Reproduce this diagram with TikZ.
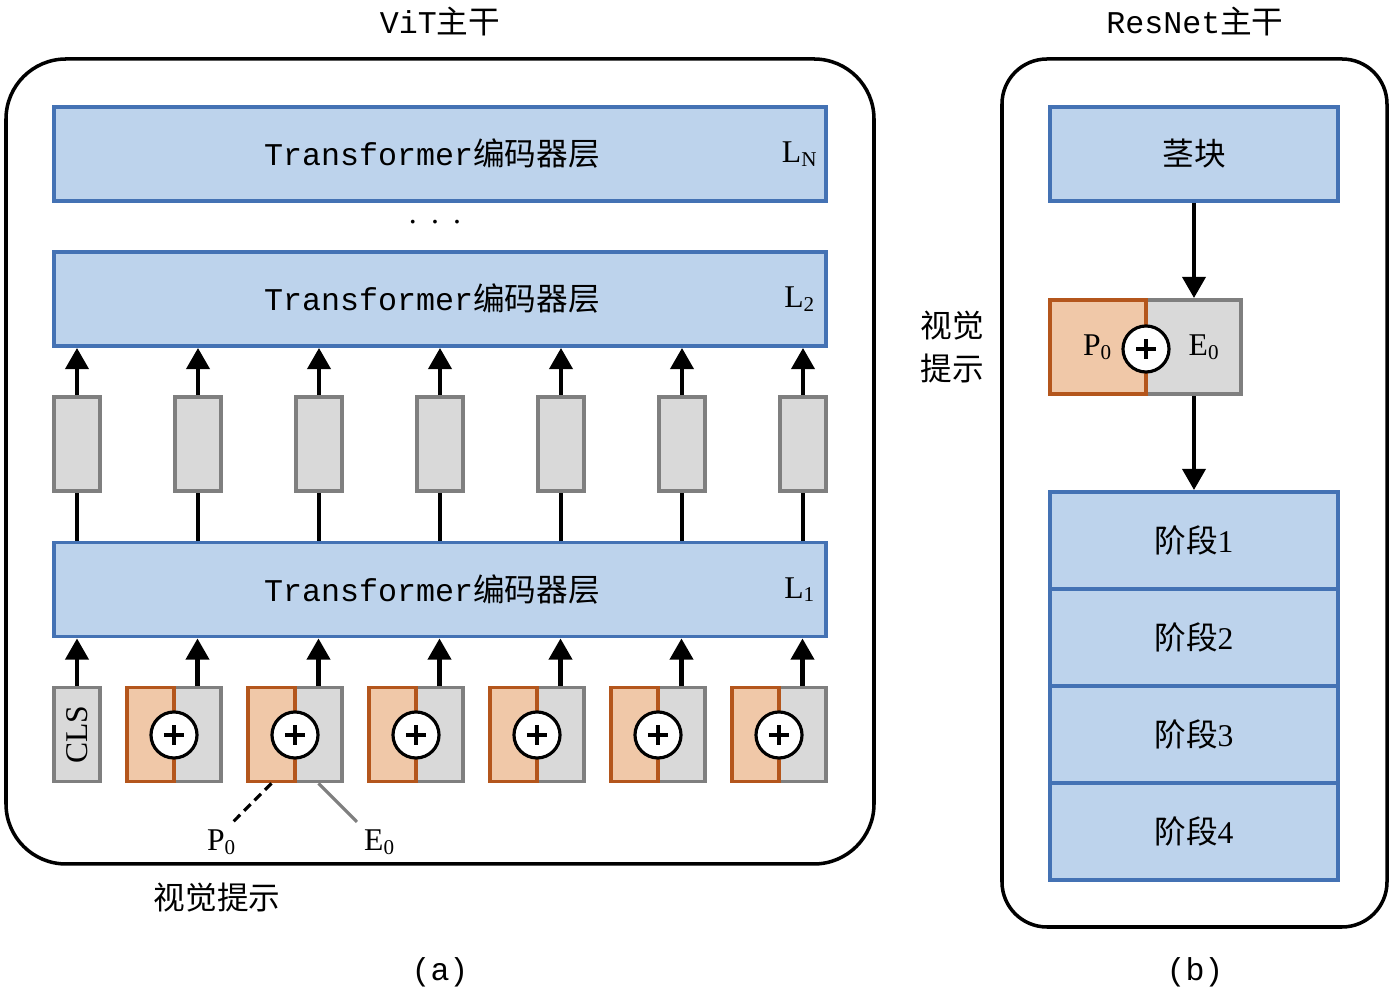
\documentclass[tikz,border=0pt]{standalone}
\usepackage{fontspec}
\setmainfont{Liberation Serif}
\newfontfamily\cjk{Noto Sans CJK SC}
\newfontfamily\latmono{Liberation Mono}
\usetikzlibrary{arrows.meta}

\definecolor{layerfill}{HTML}{BDD3EC}
\definecolor{layerline}{HTML}{4472B4}
\definecolor{tokenfill}{HTML}{D9D9D9}
\definecolor{tokenline}{HTML}{7F7F7F}
\definecolor{promptfill}{HTML}{F0C8A8}
\definecolor{promptline}{HTML}{B4561C}

\newcommand{\layertext}{{\latmono Transformer}{\cjk 编码器层}}

\begin{document}
\begin{tikzpicture}[x=0.01cm, y=-0.01cm, font=\fontsize{9}{11}\selectfont,
	layer/.style={draw=layerline, fill=layerfill, line width=1.1pt, inner sep=0pt,
		minimum width=7.72cm, minimum height=0.94cm},
	stagebox/.style={layer, minimum width=2.88cm, minimum height=0.97cm},
	token/.style={draw=tokenline, fill=tokenfill, line width=1.1pt, inner sep=0pt,
		minimum width=0.46cm, minimum height=0.94cm},
	prompt/.style={token, draw=promptline, fill=promptfill, minimum width=0.47cm},
	addop/.style={circle, draw=black, fill=white, line width=0.9pt, minimum size=0.46cm,
		inner sep=0pt, path picture={
			\draw[line width=1.2pt] ([xshift=-0.1cm]path picture bounding box.center) -- ([xshift=0.1cm]path picture bounding box.center);
			\draw[line width=1.2pt] ([yshift=-0.1cm]path picture bounding box.center) -- ([yshift=0.1cm]path picture bounding box.center);}},
	up/.style={-{Triangle[width=6.5pt,length=6pt]}, line width=1.2pt},
	bar/.style={line width=1.2pt}]
	\useasboundingbox (0,0) rectangle (1393,995);

	% (a) ViT backbone
	\node (vittitle) at (440,22) {{\latmono ViT}{\cjk 主干}};
	\draw[line width=1pt, rounded corners=0.6cm] (6,59) rectangle (874,864);
	\node[layer] (LN) at (440,154) {};
	\node[layer] (L2) at (440,299) {};
	\node[layer] (L1) at (440,589.5) {};
	\foreach \l/\s in {LN/N, L2/2, L1/1}{
		\node at ([xshift=-0.08cm]\l.center) {\layertext};
		\node at ([xshift=-0.28cm]\l.east) {L\textsubscript{\s}};
	}
	\node (dots) at (435,222) {.\hspace{0.45em}.\hspace{0.45em}.};

	\foreach \c [count=\i] in {77,198,319,440,561,682,803}{
		\node[token] (t\i) at (\c,444) {};
		\draw[up] (t\i.north) -- (t\i.north |- L2.south);
		\draw[bar] (L1.north -| t\i.south) -- (t\i.south);
	}

	\node[token] (cls) at (77,734.5) {\rotatebox{90}{CLS}};
	\draw[up] (cls.north) -- (cls.north |- L1.south);
	\foreach \c [count=\i from 2] in {198,319,440,561,682,803}{
		\node[token, minimum width=0.47cm] (e\i) at ({\c-0.5},734.5) {};
		\node[prompt] (p\i) at ({\c-47.5},734.5) {};
		\node[addop] (a\i) at ({\c-24},735) {};
		\draw[up] (e\i.north) -- (e\i.north |- L1.south);
	}

	\node (pzero) at (222,842) {P\textsubscript{0}};
	\node (ezero) at (380,842) {E\textsubscript{0}};
	\coordinate (ptip) at (233,822);
	\coordinate (etip) at (357,822);
	\draw[line width=0.9pt, dash pattern=on 2.6pt off 1.6pt] (p3.south) -- (ptip);
	\draw[line width=0.9pt, tokenline] (e3.south) -- (etip);
	\node (promptlabel) at (217,898) {\cjk 视觉提示};
	\node (capa) at (440,972) {\latmono (a)};

	% (b) ResNet backbone
	\node (restitle) at (1195,22) {{\latmono ResNet}{\cjk 主干}};
	\draw[line width=1pt, rounded corners=0.45cm] (1002,59) rectangle (1387,927);
	\node[stagebox, minimum height=0.94cm] (stem) at (1194,154) {\cjk 茎块};
	\node[token, minimum width=0.95cm] (re) at (1193.5,347) {\hspace{0.22cm}E\textsubscript{0}};
	\node[prompt, minimum width=0.96cm] (rp) at (1098,347) {P\textsubscript{0}\hspace{0.2cm}};
	\node[addop] (ra) at (1146,349) {};
	\foreach \y [count=\i] in {540.5,637.5,734.5,831.5}{
		\node[stagebox] (s\i) at (1194,\y) {{\cjk 阶段}\i};
	}
	\draw[up] (stem.south) -- (stem.south |- re.north);
	\draw[up] (re.south -| stem.south) -- (stem.south |- s1.north);
	\node[align=center, font=\fontsize{9}{12}\selectfont\cjk] (rplabel) at (952,347) {视觉\\提示};
	\node (capb) at (1195,972) {\latmono (b)};
\end{tikzpicture}
\end{document}
